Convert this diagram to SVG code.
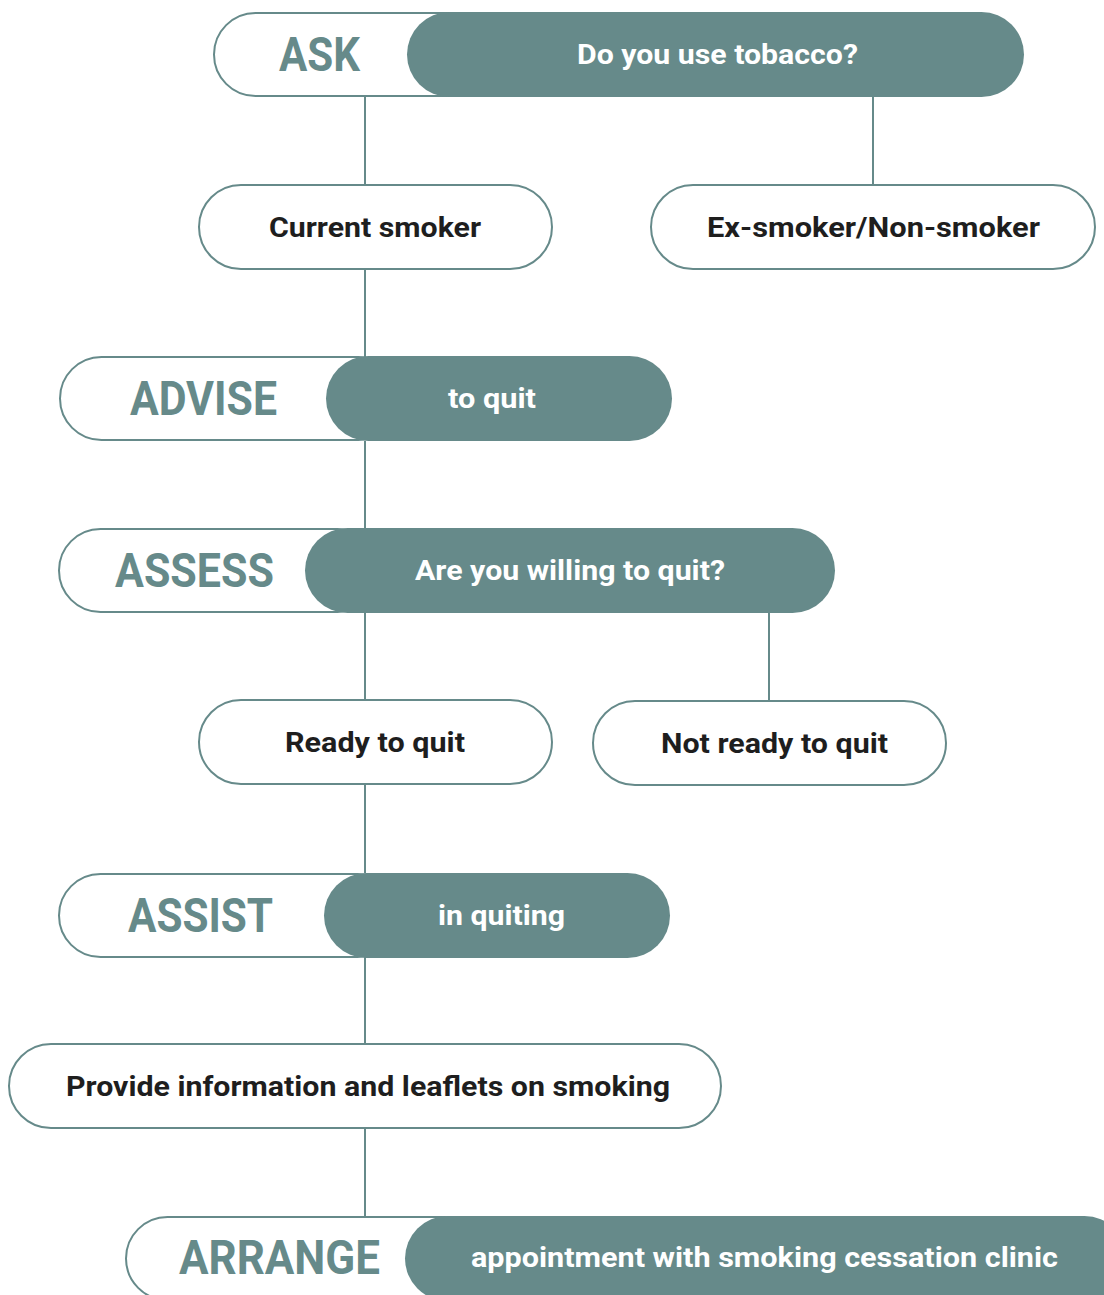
<svg xmlns="http://www.w3.org/2000/svg" width="1104" height="1295" viewBox="0 0 1104 1295">
  <style>
    .wire { stroke: #668a8a; stroke-width: 2; fill: none; }
    .outline { fill: #ffffff; stroke: #668a8a; stroke-width: 2; }
    .solid { fill: #668a8a; }
    .step { font-family: Roboto, "Liberation Sans", sans-serif; font-weight: 700; font-size: 48px; fill: #668a8a; text-anchor: middle; }
    .inv { font-family: Roboto, "Liberation Sans", sans-serif; font-weight: 700; font-size: 28px; fill: #ffffff; text-anchor: middle; }
    .lbl { font-family: Roboto, "Liberation Sans", sans-serif; font-weight: 700; font-size: 28px; fill: #1e1e1e; text-anchor: middle; }
  </style>
  <rect width="1104" height="1295" fill="#ffffff"/>

  <!-- connectors -->
  <g id="connectors">
    <line class="wire" x1="365" y1="96" x2="365" y2="185"/>
    <line class="wire" x1="873" y1="96" x2="873" y2="185"/>
    <line class="wire" x1="365" y1="269" x2="365" y2="357"/>
    <line class="wire" x1="365" y1="441" x2="365" y2="528"/>
    <line class="wire" x1="365" y1="612" x2="365" y2="700"/>
    <line class="wire" x1="769" y1="612" x2="769" y2="701"/>
    <line class="wire" x1="365" y1="784" x2="365" y2="873"/>
    <line class="wire" x1="365" y1="957" x2="365" y2="1044"/>
    <line class="wire" x1="365" y1="1128" x2="365" y2="1216"/>
  </g>

  <!-- ASK -->
  <g id="ask">
    <rect class="outline" x="214" y="13" width="300" height="83" rx="41.5"/>
    <rect class="solid" x="407" y="12" width="617" height="85" rx="42.5"/>
    <text class="step" x="319.5" y="71" textLength="81" lengthAdjust="spacingAndGlyphs">ASK</text>
    <text class="inv" x="717.5" y="64" textLength="281" lengthAdjust="spacingAndGlyphs">Do you use tobacco?</text>
  </g>

  <g id="current-smoker">
    <rect class="outline" x="199" y="185" width="353" height="84" rx="42"/>
    <text class="lbl" x="375" y="237" textLength="212" lengthAdjust="spacingAndGlyphs">Current smoker</text>
  </g>

  <g id="ex-smoker">
    <rect class="outline" x="651" y="185" width="444" height="84" rx="42"/>
    <text class="lbl" x="873.5" y="237" textLength="333" lengthAdjust="spacingAndGlyphs">Ex-smoker/Non-smoker</text>
  </g>

  <!-- ADVISE -->
  <g id="advise">
    <rect class="outline" x="60" y="357" width="340" height="83" rx="41.5"/>
    <rect class="solid" x="326" y="356" width="346" height="85" rx="42.5"/>
    <text class="step" x="203.5" y="415" textLength="147" lengthAdjust="spacingAndGlyphs">ADVISE</text>
    <text class="inv" x="492" y="408" textLength="88" lengthAdjust="spacingAndGlyphs">to quit</text>
  </g>

  <!-- ASSESS -->
  <g id="assess">
    <rect class="outline" x="59" y="529" width="320" height="83" rx="41.5"/>
    <rect class="solid" x="305" y="528" width="530" height="85" rx="42.5"/>
    <text class="step" x="194.5" y="587" textLength="159" lengthAdjust="spacingAndGlyphs">ASSESS</text>
    <text class="inv" x="570" y="580" textLength="310" lengthAdjust="spacingAndGlyphs">Are you willing to quit?</text>
  </g>

  <g id="ready">
    <rect class="outline" x="199" y="700" width="353" height="84" rx="42"/>
    <text class="lbl" x="375" y="752" textLength="180" lengthAdjust="spacingAndGlyphs">Ready to quit</text>
  </g>

  <g id="not-ready">
    <rect class="outline" x="593" y="701" width="353" height="84" rx="42"/>
    <text class="lbl" x="774.5" y="753" textLength="227" lengthAdjust="spacingAndGlyphs">Not ready to quit</text>
  </g>

  <!-- ASSIST -->
  <g id="assist">
    <rect class="outline" x="59" y="874" width="340" height="83" rx="41.5"/>
    <rect class="solid" x="324" y="873" width="346" height="85" rx="42.5"/>
    <text class="step" x="200.5" y="932" textLength="145" lengthAdjust="spacingAndGlyphs">ASSIST</text>
    <text class="inv" x="501.5" y="925" textLength="127" lengthAdjust="spacingAndGlyphs">in quiting</text>
  </g>

  <g id="provide-info">
    <rect class="outline" x="9" y="1044" width="712" height="84" rx="42"/>
    <text class="lbl" x="368" y="1096" textLength="604" lengthAdjust="spacingAndGlyphs">Provide information and leaflets on smoking</text>
  </g>

  <!-- ARRANGE -->
  <g id="arrange">
    <rect class="outline" x="126" y="1217" width="360" height="83" rx="41.5"/>
    <rect class="solid" x="405" y="1216" width="722" height="85" rx="42.5"/>
    <text class="step" x="279.5" y="1274" textLength="201" lengthAdjust="spacingAndGlyphs">ARRANGE</text>
    <text class="inv" x="764.5" y="1267" textLength="587" lengthAdjust="spacingAndGlyphs">appointment with smoking cessation clinic</text>
  </g>
</svg>
